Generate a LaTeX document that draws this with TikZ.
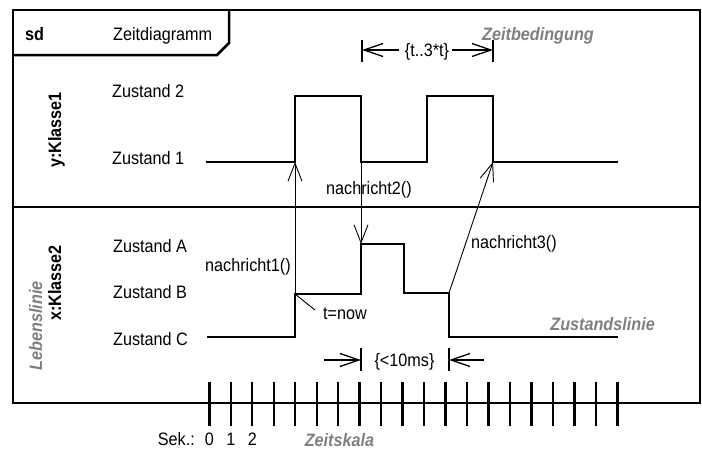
\documentclass[tikz,border=0pt]{standalone}
\usepackage{fontspec}
\setmainfont{Liberation Sans}[FakeStretch=0.9]
\usetikzlibrary{arrows.meta}
\definecolor{gry}{RGB}{128,128,128}
\begin{document}
\begin{tikzpicture}[x=1pt,y=-1pt,
  every node/.style={font=\fontsize{18}{20}\selectfont, inner sep=0pt},
  txt/.style={anchor=base west},
  bld/.style={font=\fontsize{18}{20}\selectfont\bfseries},
  glbl/.style={font=\fontsize{18}{20}\selectfont\bfseries\itshape, text=gry},
  frame/.style={line width=2.5pt},
  wave/.style={line width=2.8pt},
  ticky/.style={line width=2.4pt},
  msg/.style={line width=0.9pt, -{Straight Barb[length=18pt,width=14pt]}},
  cons/.style={line width=1.3pt, -{Straight Barb[length=19pt,width=13pt]}},
  bar/.style={line width=1.8pt},
  leader/.style={line width=0.9pt}]
\useasboundingbox (0,0) rectangle (702,450);
\fill[white] (0,0) rectangle (702,450);
% frame
\draw[frame] (13,10) rectangle (700,403);
\draw[frame] (13,207) -- (700,207);
\draw[frame] (13,55) -- (217,55) -- (229,43) -- (229,10);
\node[txt,bld] (sd) at (25,40) {sd};
\node[txt] (title) at (113,40) {Zeitdiagramm};
% lifeline labels
\node[bld,rotate=90,anchor=base] (k1) at (61,130) {y:Klasse1};
\node[bld,rotate=90,anchor=base] (k2) at (61,283) {x:Klasse2};
\node[glbl,rotate=90,anchor=base] (leb) at (42,326) {Lebenslinie};
% state labels
\node[txt] (z2) at (112,97.7) {Zustand 2};
\node[txt] (z1) at (112,164) {Zustand 1};
\node[txt] (za) at (113,252) {Zustand A};
\node[txt] (zb) at (113,298) {Zustand B};
\node[txt] (zc) at (113,345) {Zustand C};
% waveform coordinates
\coordinate (u1) at (295,162);
\coordinate (u2) at (361,162);
\coordinate (u3) at (493,162);
\coordinate (l1) at (295,294);
\coordinate (l2) at (361,244);
\coordinate (l3) at (449,293);
% upper waveform
\draw[wave] (206,162) -- (u1) -- (295,96) -- (361,96) -- (u2) -- (427,162) -- (427,96) -- (493,96) -- (u3) -- (618,162);
% lower waveform
\draw[wave] (207,337) -- (295,337) -- (l1) -- (361,294) -- (l2) -- (404,244) -- (404,293) -- (l3) -- (449,337) -- (618,337);
% messages
\draw[msg] (l1) -- (u1);
\draw[msg] (u2) -- (l2);
\draw[msg] (l3) -- (u3);
\node[txt] (m1) at (205,271) {nachricht1()};
\node[txt] (m2) at (326,194) {nachricht2()};
\node[txt] (m3) at (471,248) {nachricht3()};
% t=now
\node[txt] (tnow) at (323,319.3) {t=now};
\coordinate (tl) at (315,310);
\draw[leader] (l1) -- (tl);
% Zustandslinie
\node[glbl,anchor=base east] (zl) at (655,330) {Zustandslinie};
% top constraint
\coordinate (tb1a) at (362,40); \coordinate (tb1b) at (362,62);
\coordinate (tb2a) at (493,40); \coordinate (tb2b) at (493,62);
\draw[bar] (tb1a) -- (tb1b);
\draw[bar] (tb2a) -- (tb2b);
\coordinate (tl1) at (362,50); \coordinate (tl0) at (399,50);
\coordinate (tr1) at (493,50); \coordinate (tr0) at (452,50);
\draw[cons] (tl0) -- (tl1);
\draw[cons] (tr0) -- (tr1);
\node[anchor=base] (tc) at (427,56.5) {\{t..3*t\}};
\node[glbl,txt] (zbed) at (482,40.7) {Zeitbedingung};
% bottom constraint
\coordinate (bb1a) at (361,348); \coordinate (bb1b) at (361,371);
\coordinate (bb2a) at (449,348); \coordinate (bb2b) at (449,371);
\draw[bar] (bb1a) -- (bb1b);
\draw[bar] (bb2a) -- (bb2b);
\coordinate (bl1) at (361,360); \coordinate (bl0) at (324,360);
\coordinate (br1) at (449,360); \coordinate (br0) at (484,360);
\draw[cons] (bl0) -- (bl1);
\draw[cons] (br0) -- (br1);
\node[anchor=base] (bc) at (404.5,366.7) {\{<10ms\}};
% time axis ticks
\foreach \i in {0,...,19} \draw[ticky] ({209.3+21.48*\i},382) -- ({209.3+21.48*\i},426);
\node[anchor=base east] (sek) at (195,445.7) {Sek.:};
\node[anchor=base] (s0) at (209.3,445.7) {0};
\node[anchor=base] (s1) at (230.8,445.7) {1};
\node[anchor=base] (s2) at (252.3,445.7) {2};
\node[glbl,anchor=base] (zs) at (339.5,446.5) {Zeitskala};
\end{tikzpicture}
\end{document}
